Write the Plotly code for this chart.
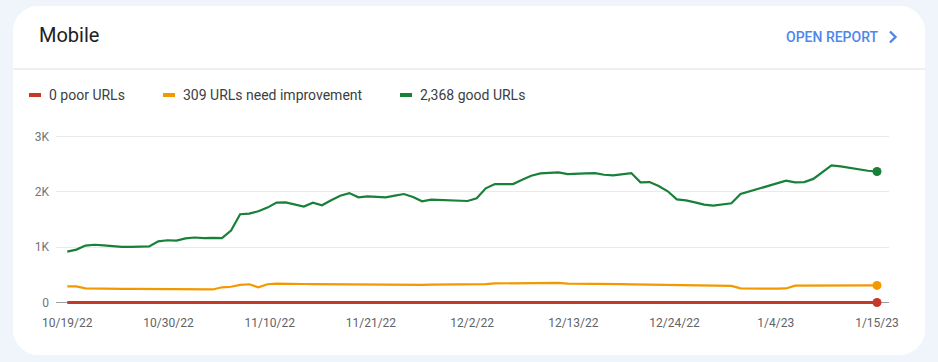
import numpy as np
import pandas as pd
import plotly.graph_objects as go

# ---------------- data ----------------
start_date = "2022-10-19"

good_urls = [
    920, 956, 1029, 1044, 1031, 1015, 1005, 1005, 1005, 1015,
    1105, 1125, 1120, 1160, 1175, 1165, 1170, 1165, 1300, 1595,
    1607, 1649, 1715, 1805, 1811, 1775, 1733, 1805, 1757, 1847,
    1931, 1978, 1901, 1919, 1913, 1901, 1931, 1961, 1907, 1829,
    1859, 1853, 1859, 1847, 1835, 1883, 2063, 2141, 2141, 2141,
    2220, 2292, 2333, 2339, 2351, 2321, 2321, 2333, 2339, 2309,
    2297, 2321, 2339, 2171, 2177, 2105, 2010, 1865, 1847, 1811,
    1769, 1751, 1769, 1793, 1961, 2009, 2063, 2117, 2153, 2201,
    2171, 2177, 2234, 2357, 2477, 2459, 2429, 2411, 2381, 2368,
]

need_improvement_urls = [
    290, 292, 255, 250, 250, 246, 245, 245, 243, 240,
    242, 242, 240, 242, 240, 236, 236, 275, 285, 320,
    330, 275, 330, 340, 342, 338, 335, 332, 330, 330,
    334, 328, 322, 320, 318, 318, 318, 318, 320, 320,
    322, 322, 324, 326, 326, 328, 334, 346, 348, 348,
    348, 350, 352, 354, 354, 340, 340, 342, 340, 338,
    336, 332, 328, 326, 322, 318, 312, 308, 306, 306,
    304, 303, 302, 300, 256, 250, 250, 250, 252, 254,
    304, 304, 306, 308, 310, 312, 312, 312, 310, 309,
]

poor_urls = [
    0, 0, 0, 0, 0, 0, 0, 0, 0, 0,
    0, 0, 0, 0, 0, 0, 0, 0, 0, 0,
    0, 0, 0, 0, 0, 0, 0, 0, 0, 0,
    0, 0, 0, 0, 0, 0, 0, 0, 0, 0,
    0, 0, 0, 0, 0, 0, 0, 0, 0, 0,
    0, 0, 0, 0, 0, 0, 0, 0, 0, 0,
    0, 0, 0, 0, 0, 0, 0, 0, 0, 0,
    0, 0, 0, 0, 0, 0, 0, 0, 0, 0,
    0, 0, 0, 0, 0, 0, 0, 0, 0, 0,
]

x_tick_labels = ["10/19/22", "10/30/22", "11/10/22", "11/21/22", "12/2/22",
                 "12/13/22", "12/24/22", "1/4/23", "1/15/23"]
y_tick_values = [0, 1000, 2000, 3000]
y_tick_labels = ["0", "1K", "2K", "3K"]

title_text = "Mobile"
link_text = "OPEN REPORT"

# ---------------- styling ----------------
W, H = 938, 362
ML, MR, MT, MB = 56, 49, 130, 57
PAGE_BG = "#f0f4fb"
RED, ORANGE, GREEN = "#c53929", "#f29900", "#188038"
FONT = "Roboto"

pw, ph = W - ML - MR, H - MT - MB


def px(x):
    return (x - ML) / pw


def py(y):
    return (H - MB - y) / ph


dates = pd.date_range(start_date, periods=len(good_urls))
first, last = dates[0], dates[-1]
tick_vals = pd.to_datetime(np.linspace(first.value, last.value, len(x_tick_labels)))
x_range = [first - pd.Timedelta(hours=1.24 * 24), last + pd.Timedelta(hours=1.32 * 24)]

fig = go.Figure()

series = [
    (poor_urls, RED, 3),
    (need_improvement_urls, ORANGE, 2.2),
    (good_urls, GREEN, 2.2),
]
for vals, col, w in series:
    fig.add_trace(go.Scatter(
        x=dates, y=vals, mode="lines", line=dict(color=col, width=w, shape="linear"),
        showlegend=False, hoverinfo="skip", cliponaxis=False,
    ))
    fig.add_trace(go.Scatter(
        x=[dates[-1]], y=[vals[-1]], mode="markers",
        marker=dict(color=col, size=9, line=dict(width=0)),
        showlegend=False, hoverinfo="skip", cliponaxis=False,
    ))

# ---------------- card background ----------------
L, R, T, B, r = 13, 925, 6, 355, 24
k = 0.45
rx, ry = r / pw, r / ph
x0, x1, y0, y1 = px(L), px(R), py(T), py(B)
card = (
    f"M {x0 + rx} {y0} L {x1 - rx} {y0} "
    f"C {x1 - rx * k} {y0} {x1} {y0 - ry * (1 - k)} {x1} {y0 - ry} "
    f"L {x1} {y1 + ry} "
    f"C {x1} {y1 + ry * k} {x1 - rx * (1 - k)} {y1} {x1 - rx} {y1} "
    f"L {x0 + rx} {y1} "
    f"C {x0 + rx * k} {y1} {x0} {y1 + ry * (1 - k)} {x0} {y1 + ry} "
    f"L {x0} {y0 - ry} "
    f"C {x0} {y0 - ry * k} {x0 + rx * (1 - k)} {y0} {x0 + rx} {y0} Z"
)
shapes = [
    dict(type="path", path=card, xref="paper", yref="paper", fillcolor="white",
         line=dict(width=0), layer="below"),
    dict(type="line", xref="paper", yref="paper", x0=px(L), x1=px(R), y0=py(69), y1=py(69),
         line=dict(color="#e0e0e0", width=1)),
    # chevron next to OPEN REPORT
    dict(type="path", xref="paper", yref="paper",
         path=f"M {px(890)} {py(31.5)} L {px(895.5)} {py(37)} L {px(890)} {py(42.5)}",
         line=dict(color="#4f86ec", width=2.4)),
]

annotations = [
    dict(text=title_text, x=px(37), y=py(35), xref="paper", yref="paper",
         xanchor="left", yanchor="middle", showarrow=False,
         font=dict(family=FONT, size=20, color="#202124")),
    dict(text=link_text, x=px(881), y=py(37), xref="paper", yref="paper",
         xanchor="right", yanchor="middle", showarrow=False,
         font=dict(family=FONT, size=14, color="#4f86ec", weight=500)),
]

# ---------------- custom legend ----------------
legend_items = [
    (f"{poor_urls[-1]:,} poor URLs", RED, 29),
    (f"{need_improvement_urls[-1]:,} URLs need improvement", ORANGE, 163),
    (f"{good_urls[-1]:,} good URLs", GREEN, 400),
]
for text, col, lx in legend_items:
    shapes.append(dict(type="line", xref="paper", yref="paper",
                       x0=px(lx), x1=px(lx + 12), y0=py(95), y1=py(95),
                       line=dict(color=col, width=4)))
    annotations.append(dict(text=text, x=px(lx + 18), y=py(95), xref="paper", yref="paper",
                            xanchor="left", yanchor="middle", showarrow=False,
                            font=dict(family=FONT, size=14, color="#3c4043")))

fig.update_layout(
    width=W, height=H,
    margin=dict(l=ML, r=MR, t=MT, b=MB, pad=0),
    paper_bgcolor=PAGE_BG,
    plot_bgcolor="rgba(0,0,0,0)",
    font=dict(family=FONT, color="#5f6368", size=12),
    shapes=shapes,
    annotations=annotations,
    showlegend=False,
    xaxis=dict(
        type="date", range=x_range, tickvals=tick_vals, ticktext=x_tick_labels,
        showgrid=False, zeroline=False, showline=False, ticks="",
        ticklabelstandoff=9, tickfont=dict(size=12, color="#5f6368"),
        fixedrange=True,
    ),
    yaxis=dict(
        range=[-45, 3118], tickvals=y_tick_values, ticktext=y_tick_labels,
        showgrid=True, gridcolor="#e8eaed", gridwidth=1,
        zeroline=True, zerolinecolor="#9aa0a6", zerolinewidth=1,
        showline=False, ticks="", ticklabelstandoff=6,
        tickfont=dict(size=12, color="#70757a"), fixedrange=True,
    ),
)

fig.write_html(
    "out.html",
    config={"displayModeBar": False},
    post_script="document.body.style.margin='0';document.body.style.overflow='hidden';",
)
